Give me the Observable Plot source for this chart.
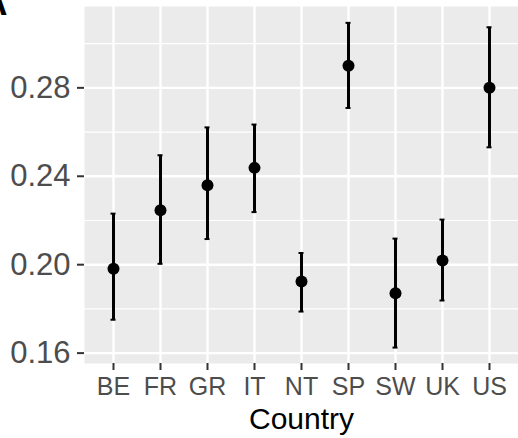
<!DOCTYPE html>
<html>
<head>
<meta charset="utf-8">
<script src="https://cdn.jsdelivr.net/npm/d3@7"></script>
<script src="https://cdn.jsdelivr.net/npm/@observablehq/plot@0.6"></script>
<style>
  html, body { margin: 0; padding: 0; background: #fff; overflow: hidden; }
</style>
</head>
<body>
<div id="chart"></div>
<script>
const countries = ["BE", "FR", "GR", "IT", "NT", "SP", "SW", "UK", "US"];
const means = [0.1982, 0.2246, 0.2359, 0.2438, 0.1924, 0.2900, 0.1871, 0.2019, 0.2800];
const lows  = [0.1751, 0.2004, 0.2116, 0.2238, 0.1788, 0.2709, 0.1625, 0.1838, 0.2531];
const highs = [0.2231, 0.2495, 0.2621, 0.2634, 0.2053, 0.3094, 0.2118, 0.2204, 0.3074];
const yMajor = [0.16, 0.20, 0.24, 0.28];
const yMinor = [0.18, 0.22, 0.26, 0.30];
const xTitle = "Country";
const tag = "A";

const data = countries.map((c, i) => ({country: c, mean: means[i], lo: lows[i], hi: highs[i]}));

const font = "'Liberation Sans', Arial, Helvetica, sans-serif";

const chart = Plot.plot({
  width: 518,
  height: 438,
  marginLeft: 84,
  marginRight: 0,
  marginTop: 6,
  marginBottom: 75,
  style: {fontFamily: font, background: "#fff", overflow: "hidden"},
  x: {type: "point", domain: countries, padding: 0.6},
  y: {domain: [0.1553, 0.3168]},
  marks: [
    Plot.frame({fill: "#EBEBEB", stroke: "none"}),
    Plot.ruleY(yMinor, {stroke: "#fff", strokeWidth: 1.2}),
    Plot.ruleY(yMajor, {stroke: "#fff", strokeWidth: 2.4}),
    Plot.ruleX(countries, {stroke: "#fff", strokeWidth: 2.4}),
    Plot.ruleX(data, {x: "country", y1: "lo", y2: "hi", stroke: "#000", strokeWidth: 3}),
    Plot.ruleY(data, {y: "lo", x1: "country", x2: "country", insetLeft: -2.5, insetRight: -2.5, stroke: "#000", strokeWidth: 2}),
    Plot.ruleY(data, {y: "hi", x1: "country", x2: "country", insetLeft: -2.5, insetRight: -2.5, stroke: "#000", strokeWidth: 2}),
    Plot.dot(data, {x: "country", y: "mean", r: 6, fill: "#000", stroke: "none"}),
    Plot.axisX({tickSize: 7, tickPadding: 7, fontSize: 25, label: null, stroke: "#333", strokeWidth: 2, fill: "#4D4D4D"}),
    Plot.axisY(yMajor, {tickSize: 7, tickPadding: 7, fontSize: 31, label: null, tickFormat: ".2f", stroke: "#333", strokeWidth: 2, fill: "#4D4D4D"}),
    Plot.text([xTitle], {frameAnchor: "bottom", dy: 65, fontSize: 30, fill: "#000"}),
    Plot.text([tag], {frameAnchor: "top-left", dx: -77, dy: -17, textAnchor: "end", fontSize: 36, fontWeight: "bold", fill: "#000"})
  ]
});
document.getElementById("chart").appendChild(chart);
</script>
</body>
</html>
